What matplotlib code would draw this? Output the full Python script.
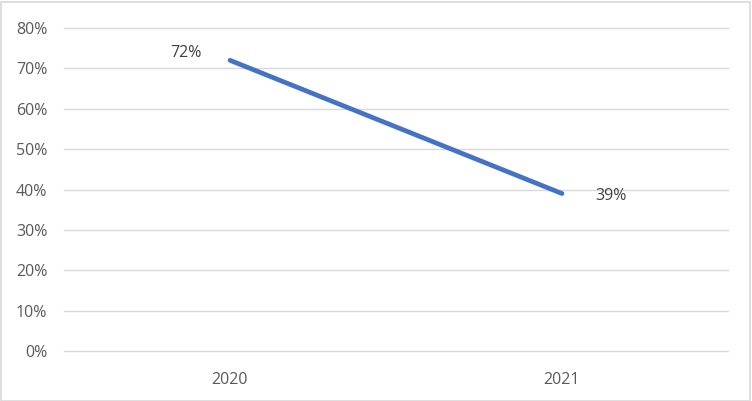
import matplotlib
matplotlib.use("Agg")
import matplotlib.pyplot as plt
from matplotlib.patches import Rectangle

years = ["2020", "2021"]
values = [0.72, 0.39]
yticks = [0, 0.1, 0.2, 0.3, 0.4, 0.5, 0.6, 0.7, 0.8]
ytick_labels = ["0%", "10%", "20%", "30%", "40%", "50%", "60%", "70%", "80%"]

plt.rcParams['font.family'] = ['Open Sans', 'DejaVu Sans']

W, H = 752, 401
fig = plt.figure(figsize=(W / 100, H / 100), dpi=100)
fig.patch.set_facecolor("white")
fig.patches.append(Rectangle((0.5 / W, 0.5 / H), 1 - 2.5 / W, 1 - 2.5 / H,
                             transform=fig.transFigure, fill=False,
                             edgecolor="#d9d9d9", linewidth=1.2))

left, right = 64, 728
top, bottom = 28, 351
ax = fig.add_axes([left / W, 1 - bottom / H, (right - left) / W, (bottom - top) / H])

x = [0.5, 1.5]
ax.plot(x, values, color="#4472C4", linewidth=3.4, solid_capstyle="round", zorder=3)

ax.set_xlim(0, 2)
ax.set_ylim(0, 0.8)
ax.set_yticks(yticks)
ax.set_yticklabels(ytick_labels)
ax.set_xticks(x)
ax.set_xticklabels(years)
for s in ax.spines.values():
    s.set_visible(False)
ax.grid(axis="y", color="#d9d9d9", linewidth=1.0, zorder=0)
for gl in ax.get_ygridlines():
    gl.set_clip_on(False)
ax.tick_params(axis="both", length=0, colors="#595959", labelsize=11.5)
ax.tick_params(axis="y", pad=12)
ax.tick_params(axis="x", pad=15)

ax.annotate("72%", (x[0], values[0]), xytext=(-43, 5), textcoords="offset points",
            ha="left", va="center", color="#404040", fontsize=11.5)
ax.annotate("39%", (x[1], values[1]), xytext=(24, -2), textcoords="offset points",
            ha="left", va="center", color="#404040", fontsize=11.5)

fig.savefig("out.png", dpi=100)
